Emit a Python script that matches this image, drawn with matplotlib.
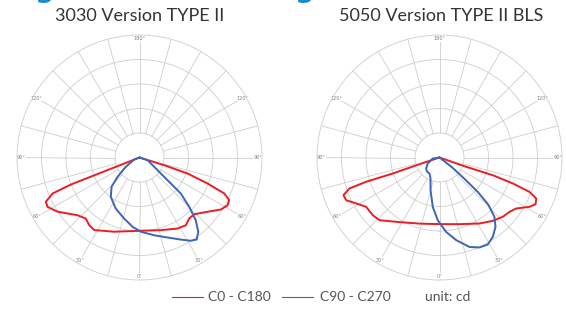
import numpy as np
import matplotlib
matplotlib.use("Agg")
import matplotlib.pyplot as plt
from matplotlib.lines import Line2D

# luminous intensity curves, angle from nadir (deg), intensity (cd), in drawing order
titles = ["3030 Version TYPE II", "5050 Version TYPE II BLS"]

red_3030_ang = [90, 72.7, 71.6, 69.1, 67.0, 64.6, 61.5, 57.4, 51.4, 44.0, 39.2, 34.4, 28.2,
                16.3, 1.0, -18.8, -31.9, -36.6, -41.4, -47.1, -56.5, -61.8, -64.7, -67.5,
                -68.5, -68.5, -90]
red_3030_cd = [0, 106, 206, 297, 376, 405, 409, 394, 355, 322, 321, 335, 329,
               309, 299, 320, 349, 344, 332, 346, 401, 426, 423, 384,
               300, 180, 0]

blue_3030_ang = [75, 71.4, 57.7, 53.1, 50.3, 48.9, 45.2, 41.9, 38.3, 34.9, 31.6, 26.7, 19.3,
                 10.7, 1.0, -5.8, -14.1, -24.9, -36.1, -43.7, -48.7, -55.8, -69, -75]
blue_3030_cd = [0, 35, 71, 109, 166, 224, 286, 344, 387, 408, 399, 375, 346,
                323, 303, 284, 257, 230, 199, 165, 119, 68, 23, 0]

red_5050_ang = [90, 70.8, 71.6, 70.5, 69.1, 67.0, 64.1, 61.3, 56.4, 52.2, 46.9, 40.1, 31.2,
                16.7, 0, -16.9, -31.7, -43.7, -49.1, -56.1, -61.1, -65.4, -68.6, -71.0,
                -71.7, -71.1, -71.5, -90]
red_5050_cd = [0, 115, 229, 318, 393, 429, 436, 419, 376, 362, 354, 338, 315,
               284, 272, 282, 310, 354, 360, 361, 388, 419, 421, 389,
               315, 201, 86, 0]

blue_5050_ang = [55, 52, 49.5, 48, 46, 42.8, 38.9, 33.9, 29.0, 24.0, 18.5, 11.4, 5.1,
                 -1.6, -7.7, -15.4, -23.2, -32, -40.5, -50.4, -62.9, -81.5, -90]
blue_5050_cd = [0, 66, 135, 211, 277, 330, 364, 390, 406, 402, 385, 344, 305,
                256, 204, 138, 93, 77, 77, 71, 54, 28, 0]

curves = [
    [(red_3030_ang, red_3030_cd), (blue_3030_ang, blue_3030_cd)],
    [(red_5050_ang, red_5050_cd), (blue_5050_ang, blue_5050_cd)],
]

angle_labels = {0: "0°", 30: "30°", -30: "30°", 60: "60°", -60: "60°",
                90: "90°", -90: "90°", 120: "120°", -120: "120°", 180: "180°"}

RED = "#ec1c24"
BLUE = "#3d64b5"
GRID = "#cdcdcd"

fig = plt.figure(figsize=(5.66, 3.09), dpi=100)
fig.patch.set_facecolor("white")

centers_px = [139.5, 439.5]
radius_px = 122.5
W, H = 566, 309

for i, cx in enumerate(centers_px):
    rect = [(cx - radius_px) / W, (H - 157.5 - radius_px) / H, 2 * radius_px / W, 2 * radius_px / H]
    ax = fig.add_axes(rect, projection="polar")
    ax.set_theta_zero_location("S")
    ax.set_theta_direction(1)
    ax.set_ylim(0, 500)
    ax.set_xticks([])
    ax.set_yticks([100, 200, 300, 400])
    ax.set_yticklabels([])
    ax.grid(True, color=GRID, lw=0.6)
    ax.xaxis.grid(False)
    ax.spines["polar"].set_color(GRID)
    ax.spines["polar"].set_linewidth(0.6)
    # spokes every 15 deg, from the inner ring out
    for t in np.arange(0, 360, 15):
        ax.plot([np.radians(t)] * 2, [100, 500], color=GRID, lw=0.6, zorder=1)
    for a, lab in angle_labels.items():
        ax.text(np.radians(a), 484, lab, fontsize=3.6, color="#808080",
                ha="center", va="center", zorder=2,
                bbox=dict(facecolor="white", edgecolor="none", pad=0.2))
    for (ang, cd), col in zip(curves[i], [RED, BLUE]):
        ax.plot(np.radians(ang), cd, color=col, lw=1.4, zorder=3,
                solid_joinstyle="round", solid_capstyle="round")
    fig.text(cx / W + (0.0 if i == 0 else 0.003), 1 - 16 / H, titles[i], ha="center", va="center",
             fontsize=13, color="#333333", family=["Lato", "DejaVu Sans"])

# clipped heading remnants at the very top
for gx in [35, 295]:
    fig.text(gx / W, 1 + 3 / H, "g", fontsize=20, color="#1a8ad4", fontweight="bold",
             va="baseline", ha="left")

# legend
ly = 1 - 297 / H
fig.add_artist(Line2D([172 / W, 203 / W], [ly, ly], color=RED, lw=0.8))
fig.text(208 / W, ly, "C0 - C180", fontsize=10, color="#555555", va="center",
         family=["Lato", "DejaVu Sans"])
fig.add_artist(Line2D([282 / W, 313 / W], [ly, ly], color=BLUE, lw=0.8))
fig.text(320 / W, ly, "C90 - C270", fontsize=10, color="#555555", va="center",
         family=["Lato", "DejaVu Sans"])
fig.text(425 / W, ly, "unit: cd", fontsize=10, color="#555555", va="center",
         family=["Lato", "DejaVu Sans"])

fig.savefig("out.png", dpi=100, facecolor="white")
